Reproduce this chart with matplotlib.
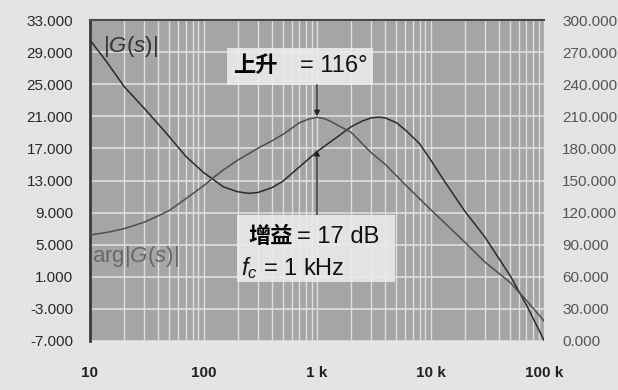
import numpy as np
import matplotlib
matplotlib.use("Agg")
import matplotlib.pyplot as plt
from matplotlib.patches import Rectangle

plt.rcParams["font.family"] = ["Liberation Sans", "Noto Sans CJK SC"]
plt.rcParams["mathtext.fontset"] = "custom"
plt.rcParams["mathtext.rm"] = "Liberation Sans"
plt.rcParams["mathtext.it"] = "Liberation Sans:italic"

# magnitude |G(s)| in dB (left axis)
freq_mag = [10, 14, 20, 30, 47, 70, 100, 150, 200, 250, 300, 400, 500, 700,
            1000, 1500, 2000, 2500, 3000, 3500, 4000, 5000, 6000, 8000, 10000,
            13000, 20000, 30000, 40000, 50000, 70000, 100000]
mag_db = [30.5, 27.8, 24.7, 22.0, 18.9, 16.0, 14.0, 12.2, 11.6, 11.4, 11.5,
          12.1, 12.9, 14.7, 16.6, 18.4, 19.7, 20.4, 20.8, 20.9, 20.8, 20.2,
          19.3, 17.6, 15.6, 13.1, 9.2, 6.0, 3.3, 1.2, -2.5, -6.9]

# phase arg G(s) in degrees (right axis)
freq_ph = [10, 15, 20, 30, 40, 50, 70, 100, 120, 150, 200, 250, 300, 400, 500,
           700, 850, 1000, 1150, 1300, 2000, 3000, 4000, 6000, 10000, 20000,
           30000, 50000, 70000, 100000]
phase_deg = [99, 102, 105, 111, 117, 122, 133, 145, 152, 160, 169, 175, 180,
             187, 193, 204, 207.5, 209, 208, 205.6, 195, 176, 165, 146, 123,
             92.5, 74, 55, 38, 18.7]

x_ticks = [10, 100, 1000, 10000, 100000]
x_labels = ["10", "100", "1 k", "10 k", "100 k"]
left_ticks = np.arange(-7, 34, 4)
right_ticks = np.arange(0, 301, 30)

FIG_BG = "#e4e4e4"
PLOT_BG = "#a5a5a5"
GRID = "#dedede"

fig = plt.figure(figsize=(6.18, 3.90), dpi=100, facecolor=FIG_BG)
ax = fig.add_axes([90 / 618, 1 - 341 / 390, 454 / 618, 321 / 390])
ax.set_facecolor(PLOT_BG)
ax2 = ax.twinx()

ax.set_xscale("log")
ax.set_xlim(10, 100000)
ax.set_ylim(-7, 33)
ax2.set_ylim(0, 300)

ax.grid(which="both", axis="x", color=GRID, linewidth=1.0)
ax.grid(which="major", axis="y", color=GRID, linewidth=1.2)
ax.set_axisbelow(True)

ax.plot(freq_mag, mag_db, color="#2b2b2b", linewidth=1.1, zorder=3)
ax2.plot(freq_ph, phase_deg, color="#4e4e4e", linewidth=1.1, zorder=3)

ax.set_xticks(x_ticks)
ax.set_xticklabels(x_labels, fontsize=11, fontweight="bold", color="#222222")
ax.xaxis.set_minor_formatter(plt.NullFormatter())
ax.set_yticks(left_ticks)
ax.set_yticklabels([f"{v:.3f}" for v in left_ticks], fontsize=11, color="#2a2a2a")
ax2.set_yticks(right_ticks)
ax2.set_yticklabels([f"{v:.3f}" for v in right_ticks], fontsize=11, color="#555555")

ax.tick_params(axis="x", which="both", length=0, pad=18)
ax.tick_params(axis="y", length=0, pad=12)
ax2.tick_params(axis="y", length=0, pad=13)

for s in ["right", "bottom"]:
    ax.spines[s].set_visible(False)
ax.spines["left"].set_color("#3a3a3a")
ax.spines["left"].set_linewidth(2)
ax.spines["top"].set_color("#4a4a4a")
ax.spines["top"].set_linewidth(1.5)
for s in ax2.spines.values():
    s.set_visible(False)

# curve labels
ax.text(0.028, 0.955, r"|$\mathit{G(s)}$|", transform=ax.transAxes,
        fontsize=16, color="#333333", va="top", ha="left")
ax.text(0.004, 0.263, r"arg|$\mathit{G(s)}$|", transform=ax.transAxes,
        fontsize=16, color="#686868", va="center", ha="left")

# annotation boxes
ax2.add_patch(Rectangle((0.302, 0.798), 0.321, 0.115, transform=ax.transAxes,
                        facecolor="#ebebeb", alpha=0.9, edgecolor="none", zorder=4))
ax2.text(0.315, 0.857, "上升", transform=ax.transAxes, fontsize=16,
         fontweight="bold", family="Noto Sans CJK SC", va="center", zorder=5)
ax2.text(0.463, 0.857, "= 116°", transform=ax.transAxes, fontsize=17,
         va="center", color="#111111", zorder=5)

ax2.add_patch(Rectangle((0.324, 0.184), 0.348, 0.209, transform=ax.transAxes,
                        facecolor="#ebebeb", alpha=0.9, edgecolor="none", zorder=4))
ax2.text(0.348, 0.324, "增益", transform=ax.transAxes, fontsize=16,
         fontweight="bold", family="Noto Sans CJK SC", va="center", zorder=5)
ax2.text(0.456, 0.324, "= 17 dB", transform=ax.transAxes, fontsize=17,
         va="center", color="#111111", zorder=5)
ax2.text(0.332, 0.228, r"$f_c$ = 1 kHz", transform=ax.transAxes, fontsize=17,
         va="center", color="#111111", zorder=5)

# arrows to the curves at 1 kHz
i_ph = freq_ph.index(1000)
ax2.annotate("", xy=(freq_ph[i_ph], phase_deg[i_ph] + 1),
             xytext=(freq_ph[i_ph], 0.798), textcoords=("data", "axes fraction"),
             arrowprops=dict(arrowstyle="-|>", color="#222222", lw=1.0,
                             mutation_scale=8, shrinkA=0, shrinkB=0), zorder=5)
i_mag = freq_mag.index(1000)
ax.annotate("", xy=(freq_mag[i_mag], mag_db[i_mag] + 0.2),
            xytext=(freq_mag[i_mag], 0.393), textcoords=("data", "axes fraction"),
            arrowprops=dict(arrowstyle="-|>", color="#222222", lw=1.0,
                            mutation_scale=8, shrinkA=0, shrinkB=0), zorder=5)

fig.savefig("out.png", dpi=100, facecolor=FIG_BG)
